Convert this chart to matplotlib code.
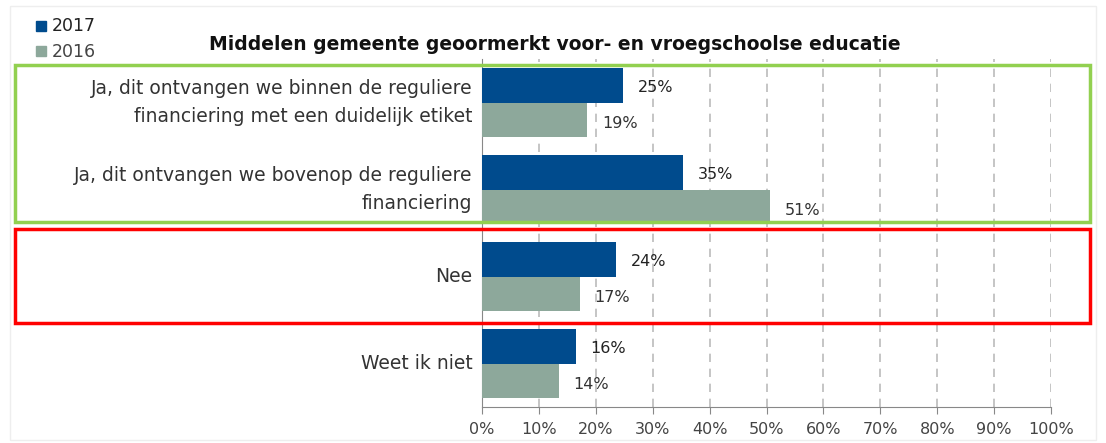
import matplotlib
matplotlib.use("Agg")
import matplotlib.pyplot as plt
from matplotlib.patches import Rectangle
import numpy as np

categories = [
    "Ja, dit ontvangen we binnen de reguliere\nfinanciering met een duidelijk etiket",
    "Ja, dit ontvangen we bovenop de reguliere\nfinanciering",
    "Nee",
    "Weet ik niet",
]
values_2017 = [24.8, 35.3, 23.5, 16.5]
values_2016 = [18.5, 50.6, 17.2, 13.5]
labels_2017 = ["25%", "35%", "24%", "16%"]
labels_2016 = ["19%", "51%", "17%", "14%"]
series_names = ["2017", "2016"]
title = "Middelen gemeente geoormerkt voor- en vroegschoolse educatie"

c17 = "#004B8D"
c16 = "#8DA89B"
W, H = 1106, 443
fig = plt.figure(figsize=(W/100, H/100), dpi=100)
ax = fig.add_axes([482/W, 1 - 407/H, (1051-482)/W, (407-59)/H])

y = np.arange(len(categories))
h = 0.395
ax.barh(y - h/2, values_2017, height=h, color=c17, zorder=3)
ax.barh(y + h/2, values_2016, height=h, color=c16, zorder=3)
for i in range(len(categories)):
    ax.text(values_2017[i] + 2.6, y[i] - h/2 + 0.02, labels_2017[i], va="center", ha="left", fontsize=11.5, color="#222222")
    ax.text(values_2016[i] + 2.6, y[i] + h/2 + 0.04, labels_2016[i], va="center", ha="left", fontsize=11.5, color="#333333")

ax.set_ylim(len(categories) - 0.5, -0.5)
ax.set_xlim(0, 100)
ax.set_xticks(np.arange(0, 101, 10))
ax.set_xticklabels([f"{v}%" for v in range(0, 101, 10)], fontsize=11.5, color="#444444")
ax.set_yticks(y)
ax.set_yticklabels(categories, fontsize=13.5, color="#333333", linespacing=1.6)
ax.tick_params(axis="y", length=0, pad=7)
ax.tick_params(axis="x", length=5, color="#888888", pad=6)
for s in ["top", "right"]:
    ax.spines[s].set_visible(False)
ax.spines["left"].set_color("#888888")
ax.spines["bottom"].set_color("#888888")
ax.grid(axis="x", linestyle=(0, (5, 4)), color="#BBBBBB", linewidth=1.2, zorder=0)
for lbl in ax.get_yticklabels():
    lbl.set_horizontalalignment("right")
    lbl.set_multialignment("right")
    lbl.set_verticalalignment("center")

fig.text(555/W, 1 - 45/H, title, ha="center", va="center", fontsize=13.5, fontweight="bold", color="#111111")

# legend
fig.patches.append(Rectangle((36/W, 1 - 31/H), 10/W, 10/H, transform=fig.transFigure, color=c17))
fig.text(52/W, 1 - 26/H, series_names[0], ha="left", va="center", fontsize=12.5, color="#222222")
fig.patches.append(Rectangle((36/W, 1 - 56/H), 10/W, 10/H, transform=fig.transFigure, color=c16))
fig.text(52/W, 1 - 52/H, series_names[1], ha="left", va="center", fontsize=12.5, color="#444444")

# highlight boxes
fig.patches.append(Rectangle((15/W, 1 - 222/H), (1090-15)/W, (222-65)/H, transform=fig.transFigure,
                             fill=False, edgecolor="#92D050", linewidth=2.5, zorder=10))
fig.patches.append(Rectangle((15/W, 1 - 323/H), (1090-15)/W, (323-229)/H, transform=fig.transFigure,
                             fill=False, edgecolor="#FF0000", linewidth=2.5, zorder=10))
# outer light border
fig.patches.append(Rectangle((10/W, 1 - 440/H), (1096-10)/W, (440-6)/H, transform=fig.transFigure,
                             fill=False, edgecolor="#EEEEEE", linewidth=1.0, zorder=0))

fig.savefig("out.png", dpi=100)
